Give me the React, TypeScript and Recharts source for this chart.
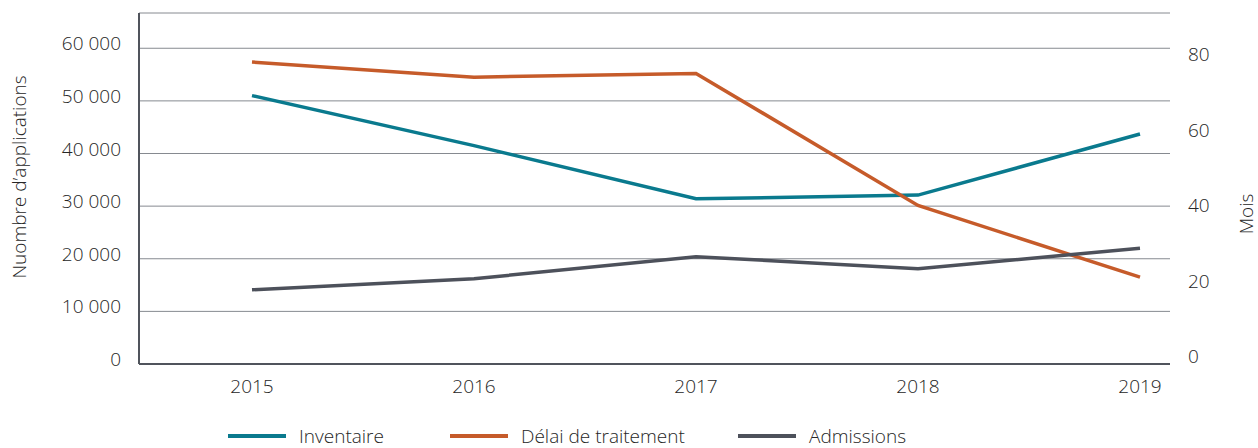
import { LineChart, Line, XAxis, YAxis, CartesianGrid, Legend } from "recharts";

const years = ["2015", "2016", "2017", "2018", "2019"];
const inventaire = [51000, 41500, 31400, 32100, 43700];
const delai = [80, 76, 77, 42, 23];
const admissions = [14100, 16200, 20400, 18100, 22000];
const leftTicks = [0, 10000, 20000, 30000, 40000, 50000, 60000];
const rightTicks = [0, 20, 40, 60, 80];

const data = years.map((year, i) => ({
  year,
  inventaire: inventaire[i],
  delai: delai[i],
  admissions: admissions[i],
}));

const FONT = "'Open Sans', 'Noto Sans', sans-serif";
const TEXT = "#262626";
const TEAL = "#0a7a8e";
const ORANGE = "#c65b2a";
const GRAY = "#4d515b";
const AXIS = "#50545c";
const txtStyle = { fontWeight: 300 } as const;

const series = [
  { key: "inventaire", name: "Inventaire", color: TEAL, width: 222 },
  { key: "delai", name: "Délai de traitement", color: ORANGE, width: 288 },
  { key: "admissions", name: "Admissions", color: GRAY, width: 200 },
];

const fmt = (v: number) => (v >= 1000 ? `${Math.floor(v / 1000)} ${String(v % 1000).padStart(3, "0")}` : String(v));

const LeftTick = ({ x, y, payload }: any) => (
  <text x={x} y={y - 5} textAnchor="end" dominantBaseline="central" fill={TEXT} fontSize={19} fontFamily={FONT} style={txtStyle}>
    {fmt(payload.value)}
  </text>
);

const RightTick = ({ x, y, payload }: any) => (
  <text x={x} y={y - 8} textAnchor="start" dominantBaseline="central" fill={TEXT} fontSize={19} fontFamily={FONT} style={txtStyle}>
    {payload.value}
  </text>
);

const BottomTick = ({ x, y, payload }: any) => (
  <text x={x} y={y} textAnchor="middle" dominantBaseline="central" fill={TEXT} fontSize={19} fontFamily={FONT} style={txtStyle}>
    {payload.value}
  </text>
);

const LegendContent = () => (
  <div style={{ display: "flex", alignItems: "center", paddingLeft: 228, fontFamily: FONT, fontSize: 19, color: TEXT, lineHeight: "24px", ...txtStyle }}>
    {series.map((s) => (
      <div key={s.key} style={{ display: "flex", alignItems: "center", width: s.width }}>
        <span style={{ display: "inline-block", width: 58, height: 4, background: s.color, marginRight: 13 }} />
        <span>{s.name}</span>
      </div>
    ))}
  </div>
);

export default function App() {
  return (
    <div style={{ position: "absolute", left: 0, top: 0, background: "#fff" }}>
      <LineChart width={1258} height={448} data={data} margin={{ top: 13, right: 0, bottom: 0, left: 0 }}>
        <CartesianGrid yAxisId="left" vertical={false} stroke="#868a90" strokeWidth={1} />
        <XAxis
          dataKey="year"
          padding={{ left: 113, right: 30 }}
          height={50}
          tickLine={false}
          tickSize={0}
          tickMargin={22}
          stroke={AXIS}
          strokeWidth={2}
          tick={<BottomTick />}
        />
        <YAxis
          yAxisId="left"
          width={139}
          domain={[0, 66700]}
          ticks={leftTicks}
          tickLine={false}
          tickSize={0}
          tickMargin={18}
          stroke={AXIS}
          strokeWidth={2}
          tick={<LeftTick />}
          label={({ viewBox }: any) => (
            <text
              x={viewBox.x + 19}
              y={177}
              transform={`rotate(-90, ${viewBox.x + 19}, 177)`}
              textAnchor="middle"
              dominantBaseline="central"
              fill={TEXT}
              fontSize={19}
              fontFamily={FONT}
              style={txtStyle}
            >
              Nuombre d’applications
            </text>
          )}
        />
        <YAxis
          yAxisId="right"
          orientation="right"
          width={88}
          domain={[0, 93]}
          ticks={rightTicks}
          tickLine={false}
          axisLine={false}
          tickSize={0}
          tickMargin={18}
          tick={<RightTick />}
          label={({ viewBox }: any) => (
            <text
              x={viewBox.x + 76}
              y={214}
              transform={`rotate(-90, ${viewBox.x + 76}, 214)`}
              textAnchor="middle"
              dominantBaseline="central"
              fill={TEXT}
              fontSize={19}
              fontFamily={FONT}
              style={txtStyle}
            >
              Mois
            </text>
          )}
        />
        <Legend verticalAlign="bottom" height={34} wrapperStyle={{ top: 424, left: 0, width: 1258 }} content={<LegendContent />} />
        <Line yAxisId="left" type="linear" dataKey="inventaire" name="Inventaire" stroke={TEAL} strokeWidth={3.5} dot={false} activeDot={false} isAnimationActive={false} />
        <Line yAxisId="right" type="linear" dataKey="delai" name="Délai de traitement" stroke={ORANGE} strokeWidth={3.5} dot={false} activeDot={false} isAnimationActive={false} />
        <Line yAxisId="left" type="linear" dataKey="admissions" name="Admissions" stroke={GRAY} strokeWidth={3.5} dot={false} activeDot={false} isAnimationActive={false} />
      </LineChart>
    </div>
  );
}
